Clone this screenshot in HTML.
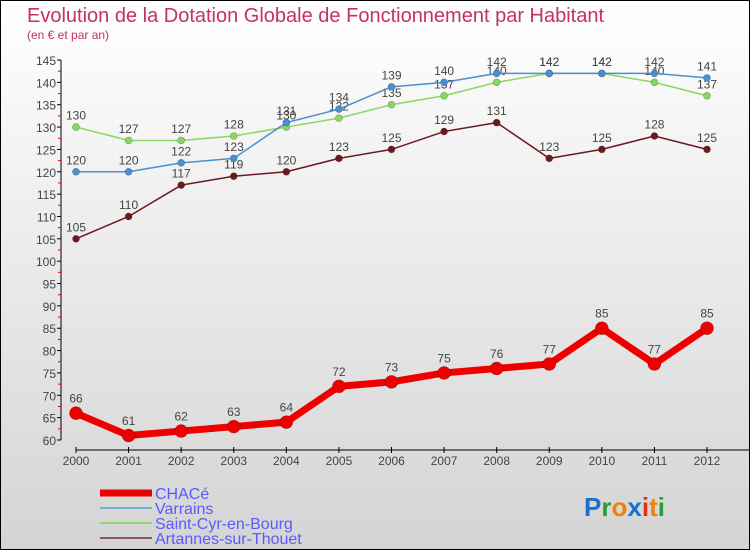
<!DOCTYPE html>
<html><head><meta charset="utf-8"><style>
body{margin:0;padding:0}
#c{width:750px;height:550px;position:relative;box-sizing:border-box;border:1px solid #000;background:linear-gradient(#ffffff,#d4d4d4);font-family:"Liberation Sans",sans-serif;overflow:hidden}
</style></head><body>
<div id="c">
<svg id="s" width="750" height="550" style="position:absolute;left:-1px;top:-1px">
<text x="27" y="22" font-size="20" fill="#c4325e">Evolution de la Dotation Globale de Fonctionnement par Habitant</text>
<text x="27" y="39" font-size="12" fill="#c4325e">(en € et par an)</text>
<g id="g"></g>
<text x="584" y="516" font-size="26" font-weight="bold" font-family="Liberation Sans,sans-serif"><tspan fill="#1a70d0">P</tspan><tspan fill="#2a9a3a">r</tspan><tspan fill="#f08010">o</tspan><tspan fill="#1a70d0">x</tspan><tspan fill="#e03010">i</tspan><tspan fill="#f08010">t</tspan><tspan fill="#2a9a3a">i</tspan></text>
</svg>
</div>
<script>
const years=[2000,2001,2002,2003,2004,2005,2006,2007,2008,2009,2010,2011,2012];
const chace=[66,61,62,63,64,72,73,75,76,77,85,77,85];
const varrains=[120,120,122,123,131,134,139,140,142,142,142,142,141];
const saintCyr=[130,127,127,128,130,132,135,137,140,142,142,140,137];
const artannes=[105,110,117,119,120,123,125,129,131,123,125,128,125];
const yTicks=[60,65,70,75,80,85,90,95,100,105,110,115,120,125,130,135,140,145];
const seriesNames=["CHACé","Varrains","Saint-Cyr-en-Bourg","Artannes-sur-Thouet"];
const NS="http://www.w3.org/2000/svg";
const g=document.getElementById('g');
function X(i){return 76+i*(707-76)/12;}
function Y(v){return 440-(v-60)*(380/85);}
function el(t,a,p){const e=document.createElementNS(NS,t);for(const k in a)e.setAttribute(k,a[k]);(p||g).appendChild(e);return e;}
let ax=el('line',{x1:61,y1:Y(145),x2:61,y2:Y(60),stroke:'#000','stroke-width':1});


yTicks.forEach(v=>{
 el('line',{x1:57,x2:61,y1:Y(v),y2:Y(v),stroke:'#000'});
 if(v<145)el('line',{x1:58,x2:61,y1:Y(v+2.5),y2:Y(v+2.5),stroke:'#e00'});
 const t=el('text',{x:56,y:Y(v)+5,'text-anchor':'end','font-size':12,fill:'#444'});t.textContent=v;
 
 
});
let xa=el('line',{x1:76,y1:450,x2:750,y2:450,stroke:'#000'});


years.forEach((y,i)=>{
 el('line',{x1:X(i),x2:X(i),y1:447,y2:453,stroke:'#000'});
 const t=el('text',{x:X(i),y:465,'text-anchor':'middle','font-size':12,fill:'#444'});t.textContent=y;
 
 
});
function series(data,color,w,r,name){
 const pts=data.map((v,i)=>X(i)+','+Y(v)).join(' ');
 const l=el('polyline',{points:pts,fill:'none',stroke:color,'stroke-width':w,'stroke-linejoin':'round'});
 
 
 data.forEach((v,i)=>{
  const c=el('circle',{cx:X(i),cy:Y(v),r:r,fill:color,stroke:'rgba(0,0,0,0.3)','stroke-width':0.6});
  
  
  const t=el('text',{x:X(i),y:Y(v)-r-4,'text-anchor':'middle','font-size':12,fill:'#444'});t.textContent=v;
  
  
 });
}
series(artannes,'#6b1a1f',1.5,3.5,'artannes');
series(saintCyr,'#88d860',1.5,3.5,'saint-cyr');
series(varrains,'#4a90d0',1.5,3.5,'varrains');
series(chace,'#ee0000',7,6.5,'chace');
const lc=['#ee0000','#7aaed0','#90d870','#8a5a5a'],lw=[7,2,2,2];
seriesNames.forEach((n,i)=>{
 const y=493+i*15;
 const l=el('line',{x1:100,x2:152,y1:y,y2:y,stroke:lc[i],'stroke-width':lw[i]});
 
 
 const t=el('text',{x:155,y:y+6,'font-size':16,fill:'#5a5aff'});t.textContent=n;
 
 
});
</script>
</body></html>
